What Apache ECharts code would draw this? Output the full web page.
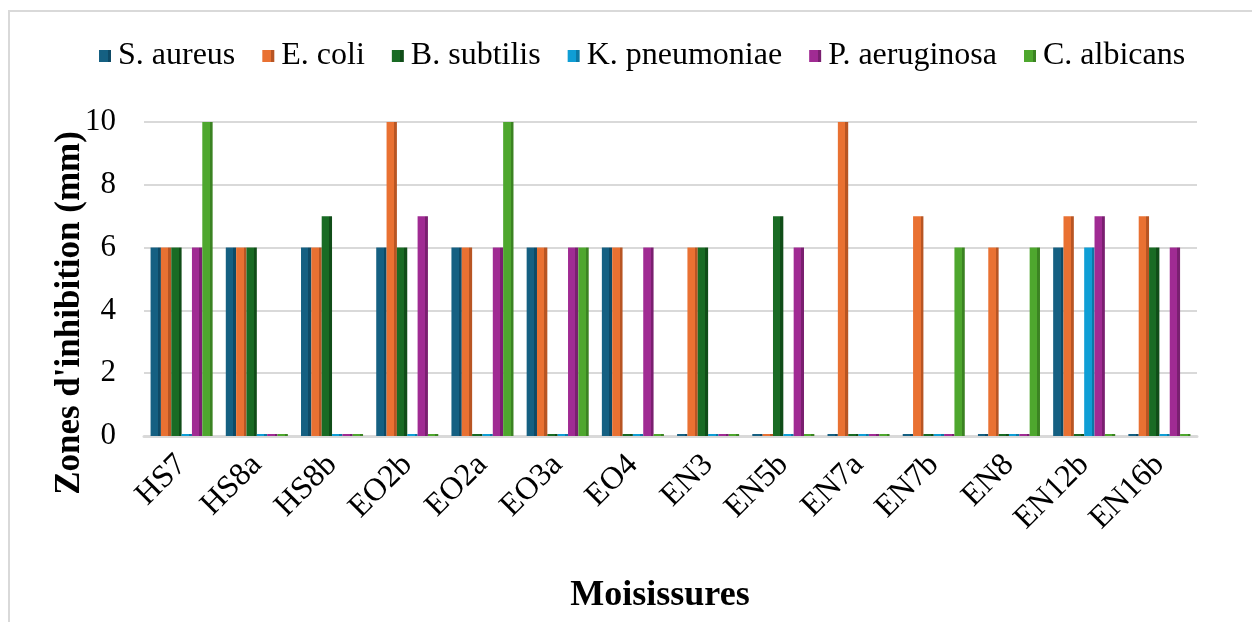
<!DOCTYPE html>
<html>
<head>
<meta charset="utf-8">
<style>
  html, body { margin: 0; padding: 0; background: #ffffff; }
  #chart { width: 1252px; height: 622px; }
</style>
<script src="https://cdn.jsdelivr.net/npm/echarts@6/dist/echarts.min.js"></script>
</head>
<body>
<div id="chart"></div>
<script>
// Moulds tested and inhibition zone diameters (mm) per test organism
const categories = ['HS7', 'HS8a', 'HS8b', 'EO2b', 'EO2a', 'EO3a', 'EO4', 'EN3', 'EN5b', 'EN7a', 'EN7b', 'EN8', 'EN12b', 'EN16b'];
const sAureus     = [6, 6, 6, 6, 6, 6, 6, 0, 0, 0, 0, 0, 6, 0];
const eColi       = [6, 6, 6, 10, 6, 6, 6, 6, 0, 10, 7, 6, 7, 7];
const bSubtilis   = [6, 6, 7, 6, 0, 0, 0, 6, 7, 0, 0, 0, 0, 6];
const kPneumoniae = [0, 0, 0, 0, 0, 0, 0, 0, 0, 0, 0, 0, 6, 0];
const pAeruginosa = [6, 0, 0, 7, 6, 6, 6, 0, 6, 0, 0, 0, 7, 6];
const cAlbicans   = [10, 0, 0, 0, 10, 6, 0, 0, 0, 0, 6, 6, 0, 0];
const yTicks = [0, 2, 4, 6, 8, 10];

const seriesDefs = [
  { name: 'S. aureus',     data: sAureus,     color: '#156082', side: '#0e4a66' },
  { name: 'E. coli',       data: eColi,       color: '#e97132', side: '#b85523' },
  { name: 'B. subtilis',   data: bSubtilis,   color: '#196b24', side: '#104d18' },
  { name: 'K. pneumoniae', data: kPneumoniae, color: '#0f9ed5', side: '#0b7aa6' },
  { name: 'P. aeruginosa', data: pAeruginosa, color: '#a02b93', side: '#7a1f70' },
  { name: 'C. albicans',   data: cAlbicans,   color: '#4ea72e', side: '#3b8322' }
];

const serif = '"Liberation Serif", "Times New Roman", serif';

const chart = echarts.init(document.getElementById('chart'), null, { renderer: 'canvas' });

chart.setOption({
  animation: false,
  backgroundColor: '#ffffff',
  color: seriesDefs.map(s => s.color),
  legend: {
    top: 35,
    left: 94,
    itemWidth: 12,
    itemHeight: 12,
    itemGap: 27,
    icon: 'rect',
    textStyle: { fontFamily: serif, fontSize: 32, color: '#000000', padding: [0, 0, 0, 2] },
    data: seriesDefs.map(s => s.name)
  },
  grid: { left: 144, right: 55, top: 122, bottom: 186 },
  xAxis: {
    type: 'category',
    data: categories,
    axisLine: { show: true, lineStyle: { color: '#d9d9d9', width: 3 } },
    axisTick: { show: false },
    axisLabel: {
      rotate: 45,
      margin: 24,
      interval: 0,
      fontFamily: serif,
      fontSize: 32,
      color: '#000000'
    }
  },
  yAxis: {
    type: 'value',
    min: 0,
    max: 10,
    interval: 2,
    axisLine: { show: false },
    axisTick: { show: false },
    axisLabel: {
      margin: 28,
      fontFamily: serif,
      fontSize: 31,
      color: '#000000',
      formatter: v => (yTicks.indexOf(v) >= 0 ? String(v) : '')
    },
    splitLine: { lineStyle: { color: '#d9d9d9', width: 2 } }
  },
  graphic: [
    {
      type: 'polyline',
      shape: { points: [[9, 622], [9, 11], [1252, 11]] },
      style: { stroke: '#d9d9d9', lineWidth: 2, fill: null },
      silent: true
    },
    {
      type: 'text',
      x: 70,
      y: 313,
      rotation: Math.PI / 2,
      style: {
        text: "Zones d'inhibition (mm)",
        fontFamily: serif,
        fontSize: 35,
        fontWeight: 'bold',
        fill: '#000000',
        align: 'center',
        verticalAlign: 'middle'
      }
    },
    {
      type: 'text',
      x: 660,
      y: 596,
      style: {
        text: 'Moisissures',
        fontFamily: serif,
        fontSize: 36,
        fontWeight: 'bold',
        fill: '#000000',
        align: 'center',
        verticalAlign: 'middle'
      }
    }
  ],
  series: seriesDefs.map(s => ({
    name: s.name,
    type: 'bar',
    data: s.data,
    barGap: '0%',
    barCategoryGap: '17.5%',
    barMinHeight: 2,
    itemStyle: {
      color: new echarts.graphic.LinearGradient(0, 0, 1, 0, [
        { offset: 0, color: s.color },
        { offset: 0.72, color: s.color },
        { offset: 0.72, color: s.side },
        { offset: 1, color: s.side }
      ])
    }
  }))
});
</script>
</body>
</html>
